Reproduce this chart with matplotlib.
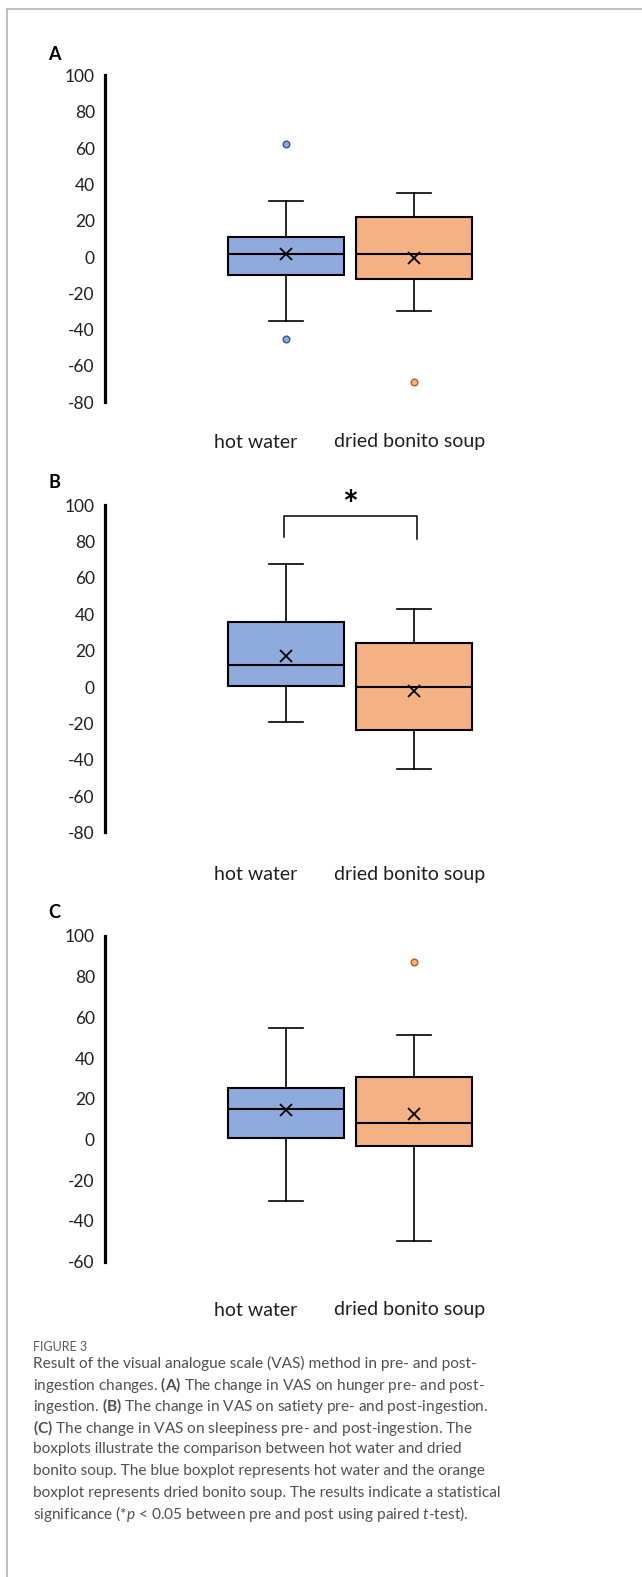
import matplotlib
matplotlib.use("Agg")
import matplotlib.pyplot as plt
from matplotlib.lines import Line2D

# ---------------- data ----------------
categories = ["hot water", "dried bonito soup"]
panel_letters = ["A", "B", "C"]
y_ticks_A = [100, 80, 60, 40, 20, 0, -20, -40, -60, -80]
y_ticks_B = [100, 80, 60, 40, 20, 0, -20, -40, -60, -80]
y_ticks_C = [100, 80, 60, 40, 20, 0, -20, -40, -60]

# five-number summaries: [lower whisker, Q1, median, Q3, upper whisker]
hunger_hot = [-35, -10, 1.5, 11, 31]
hunger_soup = [-30, -12, 1.5, 22, 35]
satiety_hot = [-19, 0.5, 12, 36, 67.5]
satiety_soup = [-45, -23.5, 0, 24, 43]
sleepy_hot = [-30, 1, 15, 25.5, 55]
sleepy_soup = [-50, -3, 8, 30.5, 51.5]

# means (x markers)
hunger_means = [1.5, -0.5]
satiety_means = [17, -2]
sleepy_means = [14.5, 12.5]

# outliers
hunger_fliers = [[62, -45], [-69]]
satiety_fliers = [[], []]
sleepy_fliers = [[], [87]]

# significance annotation (panel B)
sig_bracket_top = 94.3
sig_bracket_legs = [82.4, 81.5]
sig_label = "*"

caption_title = "FIGURE 3"
caption_lines = [
    "Result of the visual analogue scale (VAS) method in pre- and post-",
    r"ingestion changes. $\mathbf{(A)}$ The change in VAS on hunger pre- and post-",
    r"ingestion. $\mathbf{(B)}$ The change in VAS on satiety pre- and post-ingestion.",
    r"$\mathbf{(C)}$ The change in VAS on sleepiness pre- and post-ingestion. The",
    "boxplots illustrate the comparison between hot water and dried",
    "bonito soup. The blue boxplot represents hot water and the orange",
    "boxplot represents dried bonito soup. The results indicate a statistical",
    r"significance (*$p$ < 0.05 between pre and post using paired $t$-test).",
]

# ---------------- style ----------------
plt.rcParams["font.family"] = ["Lato", "DejaVu Sans"]
plt.rcParams["mathtext.fontset"] = "custom"
plt.rcParams["mathtext.bf"] = "Lato:bold"
plt.rcParams["mathtext.it"] = "Lato:italic:normal"
plt.rcParams["mathtext.rm"] = "Lato"

W, H = 642, 1577
fig = plt.figure(figsize=(W / 100, H / 100), dpi=100)

BLUE = "#8faadc"
BLUE_EDGE = "#2f5597"
ORANGE = "#f4b183"
ORANGE_EDGE = "#c55a11"
TEXT = "#1f1f1f"


def fx(x):
    return x / W


def fy(y):
    return 1 - y / H


def make_axes(top_px, bottom_px, left_px=104.5, right_px=600):
    return fig.add_axes([fx(left_px), fy(bottom_px), fx(right_px - left_px),
                         (bottom_px - top_px) / H])


panels = [
    dict(stats=[hunger_hot, hunger_soup], means=hunger_means, fliers=hunger_fliers,
         ylim=(-80, 100), ticks=y_ticks_A, top=75.5, bottom=402.2, label_y=442, letter_y=55),
    dict(stats=[satiety_hot, satiety_soup], means=satiety_means, fliers=satiety_fliers,
         ylim=(-80, 100), ticks=y_ticks_B, top=505.3, bottom=832.4, label_y=875, letter_y=482),
    dict(stats=[sleepy_hot, sleepy_soup], means=sleepy_means, fliers=sleepy_fliers,
         ylim=(-60, 100), ticks=y_ticks_C, top=936, bottom=1261.7, label_y=1310, letter_y=913),
]

colors = [BLUE, ORANGE]
edges = [BLUE_EDGE, ORANGE_EDGE]
label_x_px = [256, 409.5]

axes = []
for i, p in enumerate(panels):
    ax = make_axes(p["top"], p["bottom"])
    axes.append(ax)
    bstats = []
    for s, m, fl in zip(p["stats"], p["means"], p["fliers"]):
        bstats.append(dict(whislo=s[0], q1=s[1], med=s[2], q3=s[3], whishi=s[4],
                           mean=m, fliers=fl))
    bp = ax.bxp(bstats, positions=[1, 2], widths=0.9, patch_artist=True,
                showmeans=True, capwidths=0.27,
                boxprops=dict(linewidth=1.5, edgecolor="black"),
                medianprops=dict(color="black", linewidth=1.5),
                whiskerprops=dict(color="black", linewidth=1.2),
                capprops=dict(color="black", linewidth=1.2),
                meanprops=dict(marker="x", markersize=8.5, markeredgecolor="black",
                               markeredgewidth=1.3, markerfacecolor="none"),
                flierprops=dict(marker="o", markersize=4.8, markeredgewidth=1.0))
    for patch, c in zip(bp["boxes"], colors):
        patch.set_facecolor(c)
    for fl, c, e in zip(bp["fliers"], colors, edges):
        fl.set_markerfacecolor(c)
        fl.set_markeredgecolor(e)
    ax.set_xlim(-0.418, 3.453)
    ax.set_ylim(*p["ylim"])
    ax.set_yticks(p["ticks"])
    ax.set_yticklabels([str(t) for t in p["ticks"]], fontsize=12.5, color=TEXT)
    ax.set_xticks([])
    ax.tick_params(axis="y", length=0, pad=7)
    for side in ["top", "right", "bottom"]:
        ax.spines[side].set_visible(False)
    ax.spines["left"].set_linewidth(2.3)
    ax.spines["left"].set_color("black")
    ax.patch.set_alpha(0)

    for cat, lx in zip(categories, label_x_px):
        fig.text(fx(lx), fy(p["label_y"]), cat, ha="center", va="center",
                 fontsize=14, color=TEXT)
    fig.text(fx(54), fy(p["letter_y"]), panel_letters[i], ha="center", va="center",
             fontsize=13, fontweight="bold", color="black")

# significance bracket on panel B
axB = axes[1]
bx = [0.984, 2.023]
axB.plot([bx[0], bx[0], bx[1], bx[1]],
         [sig_bracket_legs[0], sig_bracket_top, sig_bracket_top, sig_bracket_legs[1]],
         color="black", linewidth=1.1, clip_on=False)
axB.text((bx[0] + bx[1]) / 2, sig_bracket_top - 1.5, sig_label, ha="center", va="baseline",
         fontsize=27, fontweight="bold", color="black", clip_on=False)

# caption
fig.text(fx(33), fy(1347), caption_title, ha="left", va="center", fontsize=9,
         color="#5a5a5a")
line_y0 = 1363.5
line_dy = 21.5
for k, line in enumerate(caption_lines):
    fig.text(fx(33), fy(line_y0 + k * line_dy), line, ha="left", va="center",
             fontsize=11.05, color="#505050")

# frame lines (left and top)
fig.add_artist(Line2D([fx(7), fx(7)], [fy(9), 0], transform=fig.transFigure,
                      color="#b5b5b5", linewidth=1.2))
fig.add_artist(Line2D([fx(7), 1], [fy(9), fy(9)], transform=fig.transFigure,
                      color="#b5b5b5", linewidth=1.2))

fig.savefig("out.png", dpi=100, facecolor="white")
